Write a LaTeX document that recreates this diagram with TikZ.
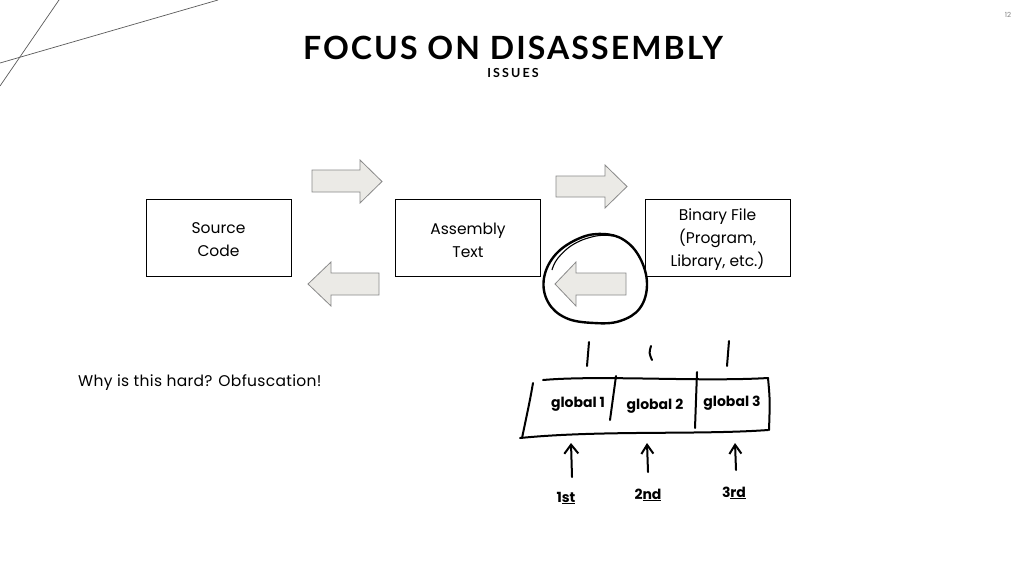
\documentclass[tikz,border=0pt]{standalone}
\usepackage{fontspec}
\setmainfont{Poppins}
\newfontfamily\titlefont[LetterSpace=6.5]{Lato}
\newfontfamily\subfont[LetterSpace=17]{Lato}
\newfontfamily\whyfont[LetterSpace=2]{Poppins}
\usetikzlibrary{arrows.meta}
\definecolor{arrowfill}{HTML}{EBEAE6}
\definecolor{arrowedge}{HTML}{8A8A8A}
\definecolor{deco}{HTML}{5A5A5A}
\begin{document}
\begin{tikzpicture}[x=1pt,y=-1pt,
  box/.style={draw=black, line width=0.8pt, minimum width=145pt, minimum height=77pt, inner sep=0pt},
  boxtext/.style={align=center, inner sep=0pt, font=\fontsize{15.5}{23}\selectfont},
  blockarrow/.style={fill=arrowfill, draw=arrowedge, line width=0.8pt, line join=miter},
  hand/.style={draw=black, line width=2pt, line cap=round, line join=round},
  handtext/.style={font=\fontsize{14}{18}\selectfont\bfseries, inner sep=0pt},
  ordtext/.style={font=\fontsize{14}{17}\selectfont\bfseries, inner sep=0pt, anchor=base}]
\useasboundingbox[fill=white] (0,0) rectangle (1024,576);

% decorative lines
\coordinate (d1a) at (0,86); \coordinate (d1b) at (59,0);
\coordinate (d2a) at (0,63); \coordinate (d2b) at (218,0);
\draw[deco, line width=0.7pt] (d1a) -- (d1b);
\draw[deco, line width=0.7pt] (d2a) -- (d2b);

% page number
\node[font=\fontsize{7}{8}\selectfont, text=gray] (pg) at (1008,15) {12};

% titles
\node[font=\titlefont\fontsize{32}{36}\selectfont\bfseries] (title) at (513,48) {FOCUS ON DISASSEMBLY};
\node[font=\subfont\fontsize{12.5}{14}\selectfont\bfseries] (sub) at (513,73) {ISSUES};

% boxes
\node[box] (src) at (218.5,237.5) {};
\node[box] (asm) at (468,237.5) {};
\node[box] (bin) at (717.5,237.5) {};
\node[boxtext, yshift=-2.5pt] (srct) at (src.center) {Source\\Code};
\node[boxtext, yshift=-2.5pt] (asmt) at (asm.center) {Assembly\\Text};
\node[boxtext, yshift=-2.5pt] (bint) at (bin.center) {Binary File\\(Program,\\Library, etc.)};

% block arrows
\draw[blockarrow] (312,170) -- (360,170) -- (360,160) -- (382,181.5) -- (360,203) -- (360,192) -- (312,192) -- cycle;
\draw[blockarrow] (556,176) -- (605,176) -- (605,165) -- (627,186.5) -- (605,208) -- (605,197) -- (556,197) -- cycle;
\draw[blockarrow] (379,273) -- (331,273) -- (331,262) -- (308,284) -- (331,306) -- (331,295) -- (379,295) -- cycle;
\draw[blockarrow] (626,273) -- (576,273) -- (576,262) -- (555,284) -- (576,306) -- (576,295) -- (626,295) -- cycle;

% hand-drawn circle
\draw[black, line width=2.4pt] plot[smooth cycle, tension=0.65] coordinates
  {(603,234) (624,240) (640,258) (647,284) (640,308) (620,321) (594,323) (566,318) (548,302) (544,278) (556,254) (580,238)};
\draw[black, line width=1.1pt] plot[smooth, tension=0.7] coordinates
  {(614,236) (596,236) (574,244) (558,258) (552,270)};

% explanation text
\node[anchor=west, font=\whyfont\fontsize{15.5}{18}\selectfont, inner sep=0pt] (why) at (78,383) {Why is this hard? Obfuscation!};

% handwritten tick marks
\draw[hand] (589,342) -- (587,366);
\draw[hand] (651,346) .. controls (649,353) .. (652,360);
\draw[hand] (729,341) -- (727,366);

% handwritten strip
\draw[hand] (543,380) .. controls (600,375) and (700,382) .. (768,378);
\draw[hand] (533,383) .. controls (530,400) .. (522,438);
\draw[hand] (520,438) .. controls (600,430) and (700,435) .. (768,430);
\draw[hand] (768,378) .. controls (770,400) .. (769,430);
\draw[hand] (616,376) -- (610,420);
\draw[hand] (697,372) -- (695,428);

\node[handtext] (g1) at (578,404) {global 1};
\node[handtext] (g2) at (655,406) {global 2};
\node[handtext] (g3) at (732,403) {global 3};

% ordinal labels
\node[ordtext] (l1) at (566,502) {1\underline{st}};
\node[ordtext] (l2) at (648,499) {2\underline{nd}};
\node[ordtext] (l3) at (734,497) {3\underline{rd}};

\coordinate (a1b) at (572,477); \coordinate (a1t) at (571,443);
\coordinate (a2b) at (648,472); \coordinate (a2t) at (647,443);
\coordinate (a3b) at (736,470); \coordinate (a3t) at (735,443);
\draw[hand, -{Straight Barb[length=9pt, width=14pt, line width=2pt]}] (a1b) -- (a1t);
\draw[hand, -{Straight Barb[length=9pt, width=12pt, line width=2pt]}] (a2b) -- (a2t);
\draw[hand, -{Straight Barb[length=9pt, width=12pt, line width=2pt]}] (a3b) -- (a3t);
\end{tikzpicture}
\end{document}
